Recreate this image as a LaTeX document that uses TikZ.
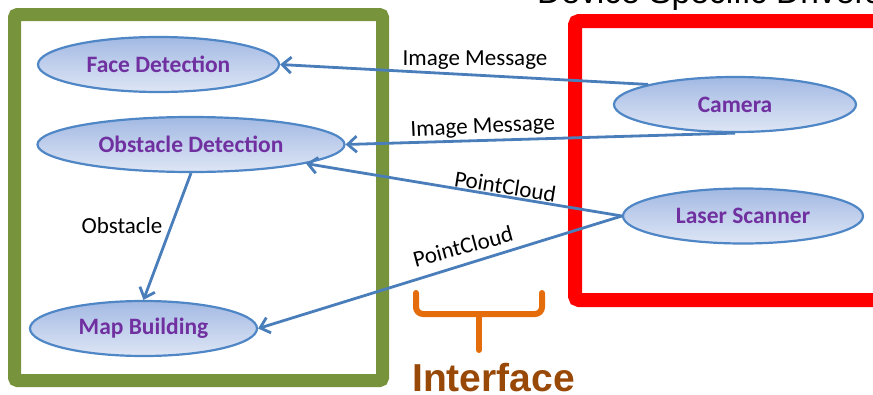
\documentclass[tikz,border=0pt]{standalone}
\usepackage{fontspec}
\setmainfont{Carlito}
\newfontfamily\arialfont{Liberation Sans}
\usetikzlibrary{shapes.geometric,arrows.meta}
\definecolor{boxgreen}{HTML}{77933C}
\definecolor{ellborder}{HTML}{4F86C6}
\definecolor{elltop}{HTML}{A3B9E3}
\definecolor{ellbot}{HTML}{DEE6F5}
\definecolor{nodetext}{HTML}{7030A0}
\definecolor{conn}{HTML}{4A7EBB}
\definecolor{bracketc}{HTML}{E46C0A}
\definecolor{ifacec}{HTML}{984807}
\tikzset{
  proc/.style={ellipse, draw=ellborder, line width=2.2pt, top color=elltop, bottom color=ellbot,
    inner sep=0pt, minimum height=55pt, font=\fontsize{23.5}{26}\selectfont\bfseries, text=nodetext},
  conn/.style={draw=conn, line width=2.8pt, -{Straight Barb[length=9pt,width=16pt,line width=2.8pt]}},
  lbl/.style={font=\fontsize{23}{26}\selectfont, text=black, inner sep=0pt, anchor=base}
}
\begin{document}
\begin{tikzpicture}[x=1pt,y=-1pt]
\useasboundingbox (0,0) rectangle (873,394);
% top title (cut off)
\node[font=\arialfont\fontsize{33.6}{36}\selectfont, anchor=base west, inner sep=0pt] (title) at (537,3.5) {Device Specific Drivers};
% boxes
\draw[boxgreen, line width=13pt, rounded corners=3pt] (14.5,14.5) rectangle (382.5,380.5);
\draw[red, line width=14pt, rounded corners=4pt] (905,21) -- (575,21) -- (575,300) -- (905,300);
% nodes
\node[proc, minimum width=241pt] (face) at (158.5,64.5) {Face Detection};
\node[proc, minimum width=307pt] (obst) at (191,144.5) {Obstacle Detection};
\node[proc, minimum width=227pt] (map) at (143.5,328.5) {Map Building};
\node[proc, minimum width=242pt] (cam) at (735,104.5) {Camera};
\node[proc, minimum width=240pt] (laser) at (743,216) {Laser Scanner};
% connectors
\draw[conn] (cam.167) -- (face.east);
\draw[conn] (cam.south) -- (obst.east);
\draw[conn] (laser.west) -- (obst);
\draw[conn] (laser.west) -- (map.east);
\draw[conn] (obst.south) -- (map.north);
% labels
\node[lbl] (l1) at (475,65) {Image Message};
\node[lbl, rotate=2.7] (l2) at (483,133) {Image Message};
\node[lbl, rotate=-9] (l3) at (504,194) {PointCloud};
\node[lbl, rotate=15] (l4) at (465,254) {PointCloud};
\node[lbl] (l5) at (122,233) {Obstacle};
% interface bracket
\draw[bracketc, line width=6pt, line cap=round, rounded corners=7pt] (416,293) -- (416,314) -- (542,314) -- (542,293);
\draw[bracketc, line width=6pt, line cap=round] (479,314) -- (479,350);
\node[font=\arialfont\bfseries\fontsize{39}{42}\selectfont, text=ifacec, anchor=base, inner sep=0pt] (iface) at (493.5,391) {Interface};
\end{tikzpicture}
\end{document}
